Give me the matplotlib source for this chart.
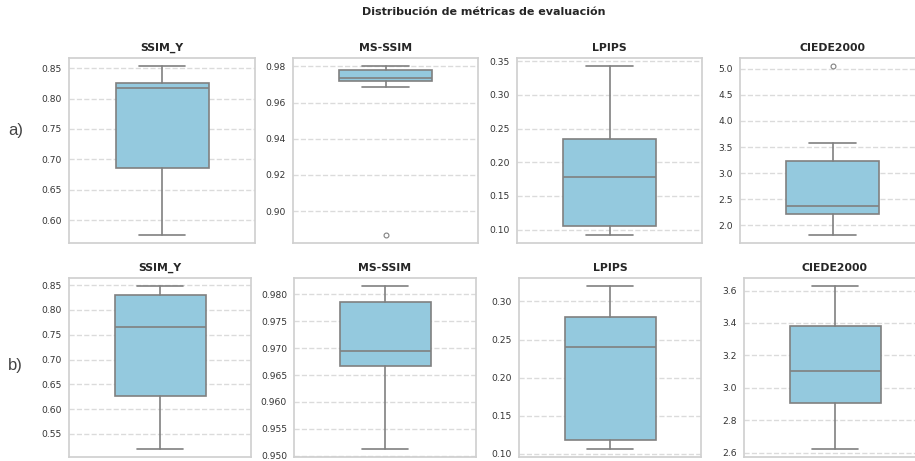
import matplotlib
matplotlib.use("Agg")
import matplotlib.pyplot as plt
import seaborn as sns

sns.set_theme(style="whitegrid")
plt.rcParams['font.family'] = ['DejaVu Sans']

metrics = ["SSIM_Y", "MS-SSIM", "LPIPS", "CIEDE2000"]
row_labels = ["a)", "b)"]

# box stats: whislo, q1, med, q3, whishi, fliers
a_whislo = [0.576, 0.9685, 0.0925, 1.82]
a_q1 = [0.6855, 0.9720, 0.1055, 2.22]
a_med = [0.817, 0.9737, 0.178, 2.365]
a_q3 = [0.826, 0.9780, 0.2352, 3.23]
a_whishi = [0.853, 0.9800, 0.3425, 3.585]
a_fliers = [[], [0.887], [], [5.046]]

b_whislo = [0.520, 0.9513, 0.1066, 2.624]
b_q1 = [0.6274, 0.9667, 0.1179, 2.905]
b_med = [0.7654, 0.9695, 0.240, 3.107]
b_q3 = [0.830, 0.9786, 0.2797, 3.384]
b_whishi = [0.848, 0.9815, 0.320, 3.627]
b_fliers = [[], [], [], []]

rows = [
    (a_whislo, a_q1, a_med, a_q3, a_whishi, a_fliers),
    (b_whislo, b_q1, b_med, b_q3, b_whishi, b_fliers),
]

W, H = 915, 461
fig = plt.figure(figsize=(W / 100, H / 100), dpi=100)

# pixel boxes of each panel (x range per row, y range per row)
row_y = [(58, 243), (278, 457)]
row_x = [
    [(69, 255), (293, 478), (517, 702), (740, 925)],
    [(69, 251), (294, 476), (519, 701), (744, 926)],
]
label_y = [130, 365]

fill = sns.desaturate("skyblue", 0.75)
line = "#808080"

for r, stats in enumerate(rows):
    whislo, q1, med, q3, whishi, fliers = stats
    top, bot = row_y[r]
    for i, name in enumerate(metrics):
        x0, x1 = row_x[r][i]
        ax = fig.add_axes([x0 / W, 1 - bot / H, (x1 - x0) / W, (bot - top) / H])
        st = [dict(whislo=whislo[i], q1=q1[i], med=med[i], q3=q3[i],
                   whishi=whishi[i], fliers=fliers[i])]
        ax.bxp(st, positions=[0], widths=0.5, patch_artist=True,
               boxprops=dict(facecolor=fill, edgecolor=line, linewidth=1.2),
               medianprops=dict(color=line, linewidth=1.2),
               whiskerprops=dict(color=line, linewidth=1.2),
               capprops=dict(color=line, linewidth=1.2),
               flierprops=dict(marker="o", markersize=3.5, markerfacecolor="none",
                               markeredgecolor=line, markeredgewidth=0.8))
        ax.set_xlim(-0.5, 0.5)
        ax.set_xticks([])
        ax.grid(axis="y", linestyle="--", alpha=0.7)
        ax.grid(axis="x", visible=False)
        ax.tick_params(axis="y", labelsize=6.6, length=0, pad=5, colors="#333333")
        ax.set_title(name, fontsize=7.8, fontweight="bold", pad=5)
        for s in ax.spines.values():
            s.set_color("#d0d0d0")
    fig.text(8 / W, 1 - label_y[r] / H, row_labels[r], fontsize=12,
             family="Liberation Sans", color="#444444", ha="left", va="center")

fig.text(484 / W, 1 - 12 / H, "Distribución de métricas de evaluación",
         fontsize=8, fontweight="bold", ha="center", va="center")

fig.savefig("out.png", dpi=100)
